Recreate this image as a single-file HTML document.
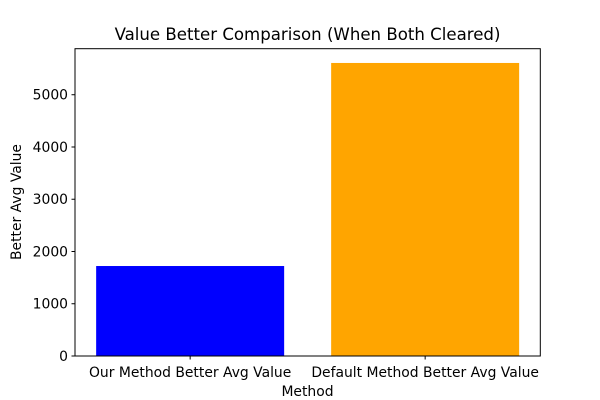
<!DOCTYPE html>
<html><head><meta charset="utf-8"><style>
body{margin:0;background:#fff;}
svg{display:block;font-family:"DejaVu Sans","Liberation Sans",sans-serif;}
</style></head><body>
<svg id="chart" width="600" height="400">
<text x="307.5" y="40" font-size="16.6" text-anchor="middle">Value Better Comparison (When Both Cleared)</text>
<g id="bars"></g>
<rect x="75" y="48.7" width="465.3" height="307.3" fill="none" stroke="#000" stroke-width="1"/>
<g id="yticks" font-size="13.9" text-anchor="end"></g>
<g id="xticks" font-size="13.9" text-anchor="middle"></g>
<text x="307.5" y="396" font-size="13.9" text-anchor="middle">Method</text>
<text transform="translate(21,202) rotate(-90)" font-size="13.9" text-anchor="middle">Better Avg Value</text>
</svg>
<script>
const categories=["Our Method Better Avg Value","Default Method Better Avg Value"];
const values=[1722,5608];
const colors=["#0000ff","#ffa500"];
const yTicks=[0,1000,2000,3000,4000,5000];
const NS="http://www.w3.org/2000/svg";
const L=75,R=540.3,T=48.7,B=356,yMax=5881,xMin=-0.49,xMax=1.49;
const y=v=>B-(v/yMax)*(B-T);
const x=i=>L+(i-xMin)/(xMax-xMin)*(R-L);
const bw=0.8*(R-L)/(xMax-xMin);
const bars=document.getElementById('bars'),yt=document.getElementById('yticks'),xt=document.getElementById('xticks');
values.forEach((v,i)=>{
 const r=document.createElementNS(NS,'rect');
 r.setAttribute('x',x(i)-bw/2);r.setAttribute('y',y(v));r.setAttribute('width',bw);r.setAttribute('height',B-y(v));r.setAttribute('fill',colors[i]);
 
 
 bars.appendChild(r);
 const tk=document.createElementNS(NS,'line');
 tk.setAttribute('x1',x(i));tk.setAttribute('x2',x(i));tk.setAttribute('y1',B);tk.setAttribute('y2',B+3.5);tk.setAttribute('stroke','#000');
 
 
 xt.appendChild(tk);
 const t=document.createElementNS(NS,'text');
 t.setAttribute('x',x(i));t.setAttribute('y',B+21);t.textContent=categories[i];
 
 
 xt.appendChild(t);
});
yTicks.forEach(v=>{
 const tk=document.createElementNS(NS,'line');
 tk.setAttribute('x1',L-3.5);tk.setAttribute('x2',L);tk.setAttribute('y1',y(v));tk.setAttribute('y2',y(v));tk.setAttribute('stroke','#000');
 
 
 yt.appendChild(tk);
 const t=document.createElementNS(NS,'text');
 t.setAttribute('x',L-7);t.setAttribute('y',y(v)+5);t.textContent=v;
 
 
 yt.appendChild(t);
});
</script>
</body></html>
